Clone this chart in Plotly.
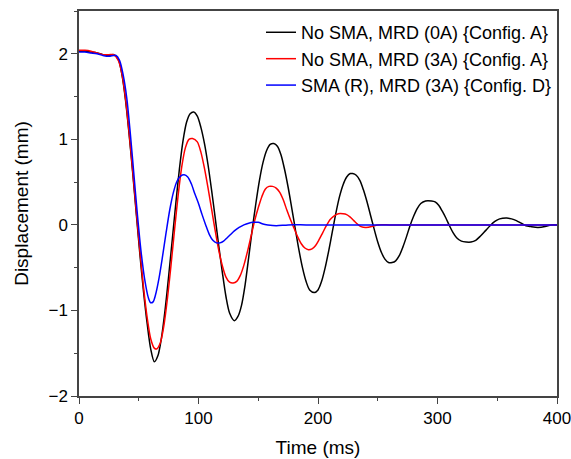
import plotly.graph_objects as go

# ---- data ----
t_black = [0, 5, 10, 15, 20, 25, 29, 33, 36, 39, 42, 45, 48, 51, 54, 57, 60, 63,
           66, 69, 72, 75, 78, 81, 84, 87, 90, 93, 96, 99,
           102, 105, 108, 111, 114, 117, 120, 123, 126, 130,
           133, 136, 139, 142, 145, 148, 151, 154, 157, 160, 163,
           166, 169, 172, 175, 178, 181, 184, 187, 190, 193, 197,
           200, 203, 206, 209, 212, 215, 218, 221, 224, 227, 229,
           232, 235, 238, 241, 244, 247, 250, 253, 256, 259, 262,
           265, 268, 271, 274, 277, 280, 283, 286, 290, 295,
           298, 301, 304, 307, 310, 313, 316, 320, 324, 328,
           332, 336, 340, 344, 348, 352, 358,
           362, 366, 370, 374, 378, 384, 390, 395, 400]
y_black = [2.03, 2.03, 2.02, 2.01, 1.99, 1.98, 1.99, 1.93, 1.75, 1.45, 1.05, 0.60, 0.12, -0.35, -0.78, -1.15, -1.45, -1.60,
           -1.53, -1.32, -1.00, -0.60, -0.18, 0.25, 0.65, 0.98, 1.20, 1.30, 1.32, 1.27,
           1.14, 0.95, 0.70, 0.40, 0.08, -0.25, -0.56, -0.84, -1.03, -1.12,
           -1.07, -0.94, -0.70, -0.38, -0.05, 0.25, 0.52, 0.73, 0.87, 0.94, 0.95,
           0.92, 0.82, 0.65, 0.44, 0.20, -0.05, -0.29, -0.50, -0.66, -0.76, -0.79,
           -0.76, -0.66, -0.50, -0.30, -0.08, 0.14, 0.33, 0.47, 0.56, 0.60, 0.60,
           0.58, 0.52, 0.41, 0.27, 0.11, -0.05, -0.20, -0.32, -0.40, -0.44, -0.44,
           -0.42, -0.36, -0.26, -0.14, -0.01, 0.10, 0.19, 0.25, 0.28, 0.28,
           0.27, 0.23, 0.16, 0.08, -0.01, -0.09, -0.15, -0.19, -0.20, -0.20,
           -0.18, -0.13, -0.07, -0.01, 0.04, 0.07, 0.08,
           0.07, 0.05, 0.02, -0.01, -0.02, -0.03, -0.02, 0.0, 0.0]

t_red = [0, 5, 10, 15, 20, 25, 29, 33, 36, 39, 42, 45, 48, 51, 54, 57, 60, 63, 65,
         68, 71, 74, 77, 80, 83, 86, 89, 92, 95,
         99, 102, 105, 108, 111, 114, 117, 120, 123, 126, 129,
         132, 135, 138, 141, 144, 147, 150, 153, 156, 159, 162,
         165, 168, 171, 174, 177, 180, 183, 186, 189, 192, 195,
         198, 201, 204, 207, 210, 213, 217, 221,
         224, 227, 230, 233, 236, 240, 245, 250, 260, 270, 280, 290, 300,
         310, 320, 330, 340, 350, 360, 370, 380, 390, 400]
y_red = [2.04, 2.04, 2.03, 2.01, 1.99, 1.99, 1.99, 1.92, 1.76, 1.47, 1.07, 0.62, 0.15, -0.31, -0.73, -1.08, -1.33, -1.44, -1.45,
         -1.38, -1.18, -0.86, -0.47, -0.05, 0.35, 0.68, 0.90, 1.00, 1.01,
         0.97, 0.85, 0.66, 0.43, 0.18, -0.07, -0.30, -0.48, -0.61, -0.67, -0.68,
         -0.66, -0.59, -0.47, -0.31, -0.13, 0.05, 0.20, 0.33, 0.42, 0.45, 0.45,
         0.43, 0.38, 0.29, 0.17, 0.06, -0.04, -0.14, -0.22, -0.27, -0.29, -0.28,
         -0.24, -0.17, -0.09, -0.01, 0.06, 0.10, 0.13, 0.13,
         0.12, 0.09, 0.05, 0.01, -0.02, -0.03, -0.02, 0.0, 0.0, 0.0, 0.0, 0.0, 0.0,
         0.0, 0.0, 0.0, 0.0, 0.0, 0.0, 0.0, 0.0, 0.0, 0.0]

t_blue = [0, 5, 10, 15, 20, 25, 29, 31, 34, 37, 40, 43, 46, 49, 52, 55, 58, 60, 62,
          64, 67, 70, 73, 76, 79, 82, 85, 88,
          91, 94, 97, 100, 103, 106, 109, 112, 115, 118,
          121, 124, 127, 130, 134, 138, 142, 146, 150, 154, 158, 165, 175,
          190, 210, 230, 250, 270, 290, 310, 330, 350, 370, 390, 400]
y_blue = [2.02, 2.02, 2.01, 2.00, 1.98, 1.97, 1.98, 1.98, 1.92, 1.75, 1.48, 1.06, 0.58, 0.10, -0.32, -0.64, -0.85, -0.91, -0.90,
          -0.82, -0.62, -0.36, -0.08, 0.18, 0.38, 0.51, 0.57, 0.585,
          0.56, 0.48, 0.36, 0.25, 0.12, 0.0, -0.11, -0.18, -0.21, -0.21,
          -0.19, -0.15, -0.11, -0.07, -0.03, 0.0, 0.02, 0.03, 0.03, 0.01, 0.0, -0.01, 0.0,
          0.0, 0.0, 0.0, 0.0, 0.0, 0.0, 0.0, 0.0, 0.0, 0.0, 0.0, 0.0]

names = ["No SMA, MRD (0A) {Config. A}",
         "No SMA, MRD (3A) {Config. A}",
         "SMA (R), MRD (3A) {Config. D}"]
colors = ["#000000", "#ff0000", "#0000ff"]

FONT = "Liberation Sans, Arial"

fig = go.Figure()
for t, y, n, c in [(t_black, y_black, names[0], colors[0]),
                   (t_red, y_red, names[1], colors[1]),
                   (t_blue, y_blue, names[2], colors[2])]:
    fig.add_trace(go.Scatter(x=t, y=y, mode="lines", name=n,
                             line=dict(color=c, width=1.5, shape="spline", smoothing=0.8)))

axis_common = dict(showline=True, linecolor="#444444", linewidth=1.5, mirror=True,
                   ticks="outside", ticklen=6, tickwidth=1.3, tickcolor="#444444",
                   showgrid=False, zeroline=False, automargin=False,
                   ticklabeloverflow="allow",
                   tickfont=dict(family=FONT, size=17, color="#000"))

fig.update_xaxes(range=[0, 400], dtick=100, tick0=0,
                 minor=dict(ticks="outside", ticklen=3, dtick=50, tickcolor="#444444", tickwidth=1.3),
                 title=dict(text="Time (ms)", font=dict(family=FONT, size=19, color="#000"), standoff=14),
                 **axis_common)
fig.update_yaxes(range=[-2, 2.5], dtick=1, tick0=0,
                 minor=dict(ticks="outside", ticklen=3, dtick=0.5, tickcolor="#444444", tickwidth=1.3),
                 title=dict(text="Displacement (mm)", font=dict(family=FONT, size=19, color="#000"), standoff=15),
                 **axis_common)

fig.update_layout(width=571, height=459,
                  margin=dict(l=79, r=14, t=11, b=63),
                  plot_bgcolor="white", paper_bgcolor="white",
                  showlegend=True,
                  legend=dict(x=1, y=0.992, xanchor="right", yanchor="top",
                              bgcolor="rgba(0,0,0,0)", borderwidth=0,
                              font=dict(family=FONT, size=18, color="#000"),
                              tracegroupgap=0, itemwidth=30))

fig.write_html("out.html")
